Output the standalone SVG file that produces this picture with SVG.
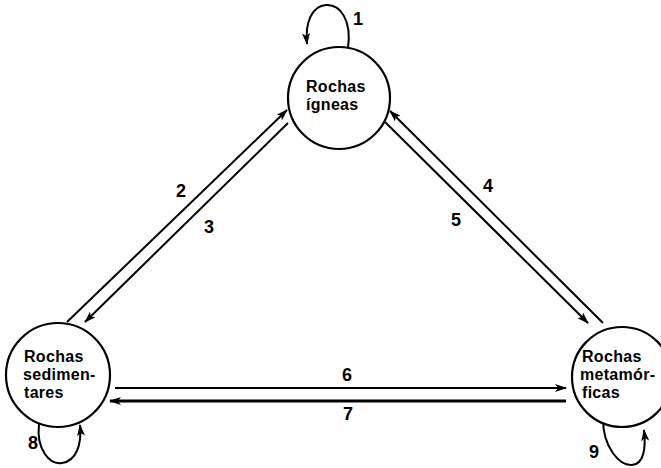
<svg xmlns="http://www.w3.org/2000/svg" width="661" height="468" viewBox="0 0 661 468">
<style>
.node circle{fill:#fff;stroke:#000;stroke-width:2.2}
.lbl{font-family:"Liberation Sans",Arial,sans-serif;font-weight:bold;font-size:16px;fill:#000;letter-spacing:0.3px}
.num{font-family:"Liberation Sans",Arial,sans-serif;font-weight:bold;font-size:18px;fill:#000;text-anchor:middle}
.c{fill:none;stroke:#000;stroke-width:2;marker-end:url(#ah)}
</style>
<defs>
<marker id="ah" viewBox="0 0 12 8" refX="11" refY="4" markerWidth="12" markerHeight="8" markerUnits="userSpaceOnUse" orient="auto">
<path d="M0,0 L12,4 L0,8 L3,4 Z" fill="#000"/>
</marker>
</defs>
<g id="connectors">
<path class="c" d="M348,48 C352,20 340,4 326,5 C312,6 305,22 307,44"/>
<path class="c" d="M39,424 C36,450 50,465 62,463 C76,461 82,445 80,425"/>
<path class="c" d="M603,419 C603,448 620,466 632,465 C644,464 646,448 644,430"/>
<path class="c" d="M67,322 L287,110"/>
<path class="c" d="M288,123 L85,322"/>
<path class="c" d="M603,323 L390,111"/>
<path class="c" d="M385,122 L588,323"/>
<path class="c" d="M115,388 L566,388"/>
<path class="c" style="stroke-width:3" d="M566,401 L110,401"/>
<text class="num" x="358" y="25">1</text>
<text class="num" x="181" y="197">2</text>
<text class="num" x="209" y="233">3</text>
<text class="num" x="488" y="192">4</text>
<text class="num" x="456" y="226">5</text>
<text class="num" x="347" y="381">6</text>
<text class="num" x="348" y="420">7</text>
<text class="num" x="33" y="449">8</text>
<text class="num" x="594" y="458">9</text>
</g>
<g id="igneas" class="node">
<circle cx="339" cy="98" r="51"/>
<text class="lbl" x="306" y="92">Rochas</text>
<text class="lbl" x="306" y="110">ígneas</text>
</g>
<g id="sedimentares" class="node">
<circle cx="58" cy="375" r="52"/>
<text class="lbl" x="24" y="362">Rochas</text>
<text class="lbl" x="23" y="380">sedimen-</text>
<text class="lbl" x="24" y="398">tares</text>
</g>
<g id="metamorficas" class="node">
<circle cx="622" cy="377" r="50"/>
<text class="lbl" x="582" y="362">Rochas</text>
<text class="lbl" x="580" y="380">metamór-</text>
<text class="lbl" x="582" y="398">ficas</text>
</g>
</svg>
